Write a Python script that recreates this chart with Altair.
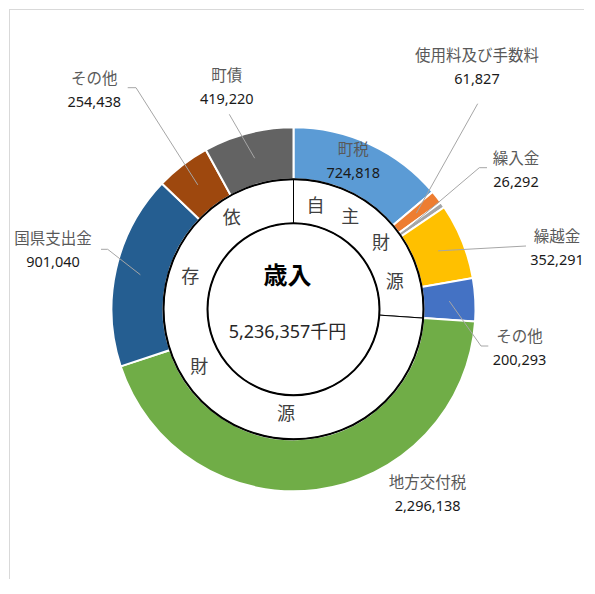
import math
import altair as alt
import pandas as pd

# ---------------- data ----------------
names = ["町税", "使用料及び手数料", "繰入金", "繰越金", "その他",
         "地方交付税", "国県支出金", "その他", "町債"]
values = [724818, 61827, 26292, 352291, 200293, 2296138, 901040, 254438, 419220]
groups = ["自主財源"] * 5 + ["依存財源"] * 4
group_order = ["自主財源", "依存財源"]
center_title = "歳入"
unit = "千円"

# ---------------- style / layout ----------------
colors = ["#5B9BD5", "#ED7D31", "#A5A5A5", "#FFC000", "#4472C4",
          "#70AD47", "#255E91", "#9E480E", "#636363"]
OFF = 8.0                       # page margin
CX, CY = 292.5 - OFF, 308.3 - OFF
R_OUT, R_MID, R_CORE = 182, 130, 86
JP = "Noto Sans CJK JP"
NUM = "Noto Sans, Noto Sans CJK JP"
W, H = 575, 570

# label anchor (page coords) of the name line; value line sits 24px below
label_pos = [(352.3, 149.3), (476.0, 55.0), (515.0, 157.7), (556.0, 236.0),
             (518.5, 336.0), (426.6, 481.7), (52.0, 238.0), (93.3, 77.7),
             (225.8, 75.0)]
# leader lines: start radius inside slice + path points (page coords)
leaders = {
    1: (156, [(476.7, 102.7)]),
    2: (132, [(478.3, 166.7), (486.0, 166.7)]),
    3: (156, [(525.0, 245.0)]),
    4: (156, [(480.0, 345.0), (487.3, 345.0)]),
    6: (157, [(106.7, 248.3), (100.0, 248.3)]),
    7: (157, [(135.0, 86.7), (126.7, 86.7)]),
    8: (156, [(228.3, 113.3)]),
}
# ring characters polar placement (deg clockwise from north, radius)
ring_char_pos = {
    "自主財源": [(12.1, 104.6), (32.0, 107.3), (53.1, 109.5), (75.6, 104.6)],
    "依存財源": [(325.7, 109.6), (286.7, 107.8), (238.2, 110.8), (184.1, 106.0)],
}

# ---------------- tables ----------------
total = sum(values)
df = pd.DataFrame({"idx": range(len(names)), "name": names, "value": values,
                   "group": groups})
df["key"] = df["idx"].astype(str)
df["value_txt"] = df["value"].map(lambda v: f"{v:,}")
df["lx"] = [p[0] - OFF for p in label_pos]
df["ly"] = [p[1] - OFF for p in label_pos]

cum = df["value"].cumsum() - df["value"] / 2
df["mid"] = cum / total * 2 * math.pi

gdf = df.groupby("group", sort=False)["value"].sum().reindex(group_order).reset_index()
gdf["gidx"] = range(len(gdf))

rows = []
for i, (r0, pts) in leaders.items():
    a = df.loc[i, "mid"]
    rows.append({"lid": i, "pt": 0, "x": CX + r0 * math.sin(a), "y": CY - r0 * math.cos(a)})
    for k, (px, py) in enumerate(pts):
        rows.append({"lid": i, "pt": k + 1, "x": px - OFF, "y": py - OFF})
ldf = pd.DataFrame(rows)

crow = []
for g in group_order:
    for ch, (deg, r) in zip(g, ring_char_pos[g]):
        crow.append({"ch": ch, "ang": math.radians(deg), "r": r})
cdf = pd.DataFrame(crow)

tdf = pd.DataFrame({"t": [center_title], "tot": [f"{total:,}{unit}"], "value": [total]})

cx = alt.value(CX)
cy = alt.value(CY)

outer = alt.Chart(df).mark_arc(outerRadius=R_OUT, innerRadius=R_MID,
                               stroke="white", strokeWidth=2).encode(
    theta=alt.Theta("value:Q", stack=True),
    order=alt.Order("idx:Q"),
    color=alt.Color("key:N", scale=alt.Scale(domain=list(df["key"]), range=colors),
                    legend=None),
    x=cx, y=cy,
)

middle = alt.Chart(gdf).mark_arc(outerRadius=R_MID, innerRadius=R_CORE,
                                 fill="white", stroke="#000000", strokeWidth=1).encode(
    theta=alt.Theta("value:Q", stack=True),
    order=alt.Order("gidx:Q"),
    x=cx, y=cy,
)

circles = alt.Chart(tdf).mark_arc(outerRadius=R_MID, innerRadius=R_CORE,
                                  fillOpacity=0, stroke="#000000", strokeWidth=2).encode(
    theta=alt.Theta("value:Q", stack=True),
    x=cx, y=cy,
)

ring_text = alt.Chart(cdf).mark_text(font=JP, fontSize=18, color="#404040",
                                     align="center", baseline="middle").encode(
    text="ch:N",
    theta=alt.Theta("ang:Q", scale=None, stack=False),
    radius=alt.Radius("r:Q", scale=None),
    x=cx, y=cy,
)

title_txt = alt.Chart(tdf).mark_text(font=JP, fontSize=24, fontWeight="bold",
                                     color="#000000", align="center",
                                     baseline="middle").encode(
    text="t:N", x=alt.value(286.5 - OFF), y=alt.value(275.5 - OFF))

total_txt = alt.Chart(tdf).mark_text(font=NUM, fontSize=18, color="#262626",
                                     align="center", baseline="middle").encode(
    text="tot:N", x=alt.value(286.5 - OFF), y=alt.value(332.0 - OFF))

lead = alt.Chart(ldf).mark_line(color="#A6A6A6", strokeWidth=1).encode(
    x=alt.X("x:Q", scale=None), y=alt.Y("y:Q", scale=None),
    detail="lid:N", order="pt:Q")

name_txt = alt.Chart(df).mark_text(font=JP, fontSize=15.5, color="#595959",
                                   align="center", baseline="middle").encode(
    text="name:N", x=alt.X("lx:Q", scale=None), y=alt.Y("ly:Q", scale=None))

val_txt = alt.Chart(df).mark_text(font=NUM, fontSize=14.5, color="#1a1a1a",
                                  align="center", baseline="middle", dy=24).encode(
    text="value_txt:N", x=alt.X("lx:Q", scale=None), y=alt.Y("ly:Q", scale=None))

frame_top = alt.Chart(tdf).mark_rule(color="#D9D9D9", strokeWidth=1).encode(
    x=alt.value(0), x2=alt.value(W), y=alt.value(0.5))
frame_left = alt.Chart(tdf).mark_rule(color="#D9D9D9", strokeWidth=1).encode(
    x=alt.value(0.5), y=alt.value(0), y2=alt.value(H))

chart = alt.layer(
    frame_top, frame_left, outer, middle, circles, ring_text, title_txt,
    total_txt, lead, name_txt, val_txt
).resolve_scale(theta="independent", color="independent").properties(
    width=W, height=H, padding=0
).configure_view(stroke=None).configure_axis(disable=True)

chart.save("out.html", embed_options={"renderer": "svg", "actions": False})
